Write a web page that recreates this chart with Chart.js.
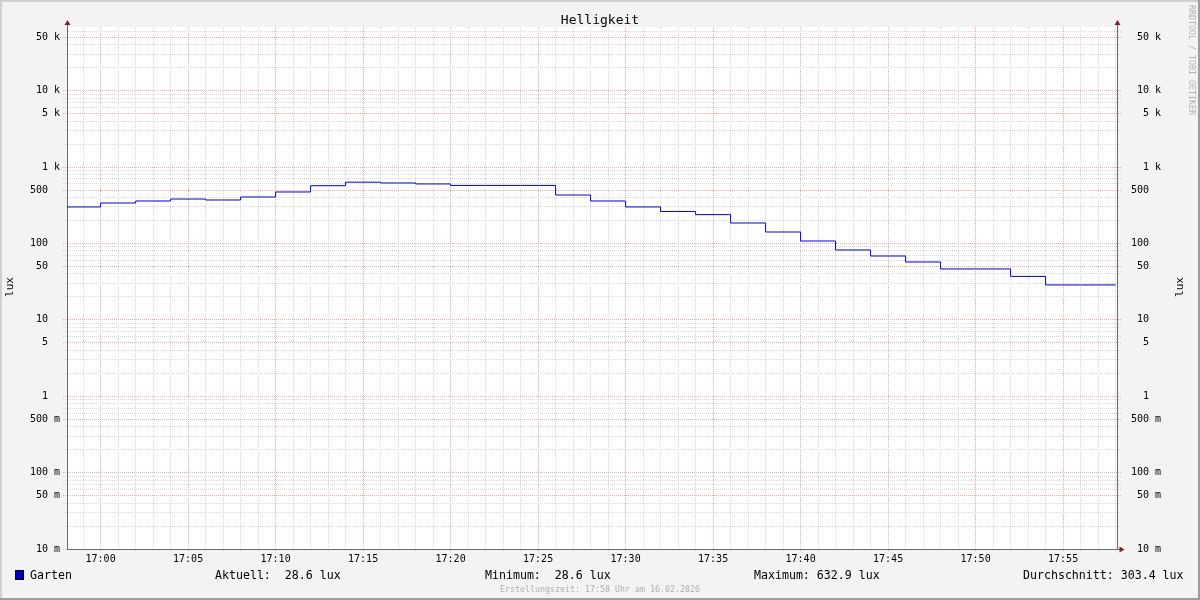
<!DOCTYPE html>
<html lang="de">
<head>
<meta charset="utf-8">
<title>Helligkeit</title>
<script src="https://cdn.jsdelivr.net/npm/chart.js@4.4.1/dist/chart.umd.min.js"></script>
<style>
  html, body { margin: 0; padding: 0; background: #f3f3f3; }
  #myChart { display: block; }
</style>
</head>
<body>
<canvas id="myChart" width="1200" height="600"></canvas>
<script>
/*
  • Data
  ---------- ---------- ---------- ---------- ----------
*/

// start of each 2 minute interval, last entry closes the final step
const times = ['16:58', '17:00', '17:02', '17:04', '17:06', '17:08', '17:10', '17:12', '17:14', '17:16',
  '17:18', '17:20', '17:22', '17:24', '17:26', '17:28', '17:30', '17:32', '17:34', '17:36',
  '17:38', '17:40', '17:42', '17:44', '17:46', '17:48', '17:50', '17:52', '17:54', '17:56', '17:58'];
const lux = [300, 338, 359, 381, 370, 405, 471, 569, 632.9, 618,
  600, 574, 574, 574, 430, 359, 300, 262, 238, 185,
  141, 107.5, 82, 68.4, 57.1, 46.3, 46.3, 37, 28.6, 28.6, 28.6];

const yTickValues = [0.01, 0.05, 0.1, 0.5, 1, 5, 10, 50, 100, 500, 1000, 5000, 10000, 50000];
const yTickLabels = ['10 m', '50 m', '100 m', '500 m', '1', '5', '10', '50', '100', '500', '1 k', '5 k', '10 k', '50 k'];
const xTickLabels = ['17:00', '17:05', '17:10', '17:15', '17:20', '17:25', '17:30', '17:35', '17:40', '17:45', '17:50', '17:55'];

const statNames = ['Aktuell:', 'Minimum:', 'Maximum:', 'Durchschnitt:'];
const statValues = [28.6, 28.6, 632.9, 303.4];

/*
  • Config
  ---------- ---------- ---------- ---------- ----------
*/

const MONO = '"DejaVu Sans Mono", "Liberation Mono", monospace';
const C_MINOR = '#d8d8d8';
const C_MAJOR = '#eeaaaa';
const C_AXIS = '#6a6a6a';
const C_ARROW = '#8e1c1c';
const C_LINE = '#0000cc';

const X_MIN = -1.92;
const X_MAX = 58.08;
const Y_MIN = 0.01;
const Y_MAX = 68000;

/*
  • Helpers
  ---------- ---------- ---------- ---------- ----------
*/

function toMinutes (t) {
  const [h, m] = t.split(':').map(Number);
  return h * 60 + m - 17 * 60;
}

// rrdtool style "%3s %1s" label, 5 chars wide
function padLabel (label) {
  const parts = label.split(' ');
  return parts[0].padStart(3) + ' ' + (parts[1] || ' ');
}

function yTicks () {
  const ticks = [];
  for (let exp = -2; exp <= 4; exp++) {
    for (let s = 1; s <= 9; s++) {
      const value = Number((s * Math.pow(10, exp)).toPrecision(6));
      if (value <= Y_MAX) ticks.push({value: value, major: s === 1 || s === 5});
    }
  }
  return ticks;
}

function xTicks () {
  const ticks = [];
  for (let m = Math.ceil(X_MIN); m <= Math.floor(X_MAX); m++) {
    ticks.push({value: m, major: m % 5 === 0});
  }
  return ticks;
}

function yLabel (value) {
  const i = yTickValues.findIndex(v => Math.abs(v - value) / v < 1e-6);
  return i < 0 ? '' : padLabel(yTickLabels[i]);
}

function xLabel (value) {
  if (value % 5 !== 0 || value < 0) return '';
  return xTickLabels[value / 5] || '';
}

function gridColor (ctx) {
  if (!ctx.tick) return C_MINOR;
  return ctx.tick.major ? C_MAJOR : C_MINOR;
}

const yAxisBase = {
  type: 'logarithmic',
  min: Y_MIN,
  max: Y_MAX,
  afterBuildTicks: scale => { scale.ticks = yTicks(); },
  border: {display: true, color: C_AXIS, width: 1, dash: [1, 1]},
  ticks: {
    autoSkip: false,
    font: {family: MONO, size: 10},
    color: '#000',
    callback: yLabel
  }
};

/*
  • Plugins
  ---------- ---------- ---------- ---------- ----------
*/

const rrdFrame = {
  id: 'rrdFrame',
  beforeDraw (chart) {
    const {ctx, chartArea: a} = chart;
    ctx.save();
    ctx.fillStyle = '#f3f3f3';
    ctx.fillRect(0, 0, chart.width, chart.height);
    ctx.fillStyle = '#ffffff';
    ctx.fillRect(a.left, a.top, a.right - a.left, a.bottom - a.top);
    ctx.restore();
  },
  afterDraw (chart) {
    const {ctx, chartArea: a} = chart;
    ctx.save();

    // axis extensions and arrows
    ctx.strokeStyle = C_AXIS;
    ctx.lineWidth = 1;
    ctx.beginPath();
    ctx.moveTo(a.left + 0.5, a.top);
    ctx.lineTo(a.left + 0.5, a.top - 4);
    ctx.moveTo(a.right + 0.5, a.top);
    ctx.lineTo(a.right + 0.5, a.top - 4);
    ctx.moveTo(a.right, a.bottom + 0.5);
    ctx.lineTo(a.right + 4, a.bottom + 0.5);
    ctx.stroke();

    ctx.fillStyle = C_ARROW;
    [a.left, a.right].forEach(x => {
      ctx.beginPath();
      ctx.moveTo(x + 0.5, a.top - 7);
      ctx.lineTo(x + 3.5, a.top - 2);
      ctx.lineTo(x - 2.5, a.top - 2);
      ctx.closePath();
      ctx.fill();
    });
    ctx.beginPath();
    ctx.moveTo(a.right + 7.5, a.bottom + 0.5);
    ctx.lineTo(a.right + 2.5, a.bottom - 2.5);
    ctx.lineTo(a.right + 2.5, a.bottom + 3.5);
    ctx.closePath();
    ctx.fill();

    // title
    ctx.fillStyle = '#000';
    ctx.font = '13px ' + MONO;
    ctx.textAlign = 'center';
    ctx.textBaseline = 'alphabetic';
    ctx.fillText('Helligkeit', 600, 24);

    // vertical unit labels
    ctx.font = '11px ' + MONO;
    [10, 1180].forEach(x => {
      ctx.save();
      ctx.translate(x, 287);
      ctx.rotate(-Math.PI / 2);
      ctx.textAlign = 'center';
      ctx.textBaseline = 'middle';
      ctx.fillText('lux', 0, 0);
      ctx.restore();
    });

    // watermark
    ctx.save();
    ctx.translate(1187, 5);
    ctx.rotate(Math.PI / 2);
    ctx.fillStyle = '#b4b4b4';
    ctx.font = '8.3px ' + MONO;
    ctx.textAlign = 'left';
    ctx.textBaseline = 'bottom';
    ctx.fillText('RRDTOOL / TOBI OETIKER', 0, 0);
    ctx.restore();

    // legend row
    ctx.fillStyle = C_LINE;
    ctx.fillRect(15, 570, 9, 10);
    ctx.strokeStyle = '#000';
    ctx.strokeRect(15.5, 570.5, 8, 9);
    ctx.fillStyle = '#000';
    ctx.font = '11.6px ' + MONO;
    ctx.textAlign = 'left';
    ctx.textBaseline = 'alphabetic';
    ctx.fillText('Garten', 30, 579);
    const statX = [215, 485, 754, 1023];
    statNames.forEach((name, i) => {
      ctx.fillText(name + statValues[i].toFixed(1).padStart(6) + ' lux', statX[i], 579);
    });

    // footer
    ctx.fillStyle = '#b0b0b0';
    ctx.font = '8.3px ' + MONO;
    ctx.textAlign = 'center';
    ctx.fillText('Erstellungszeit: 17:58 Uhr am 16.02.2026', 600, 592);

    // outer frame
    ctx.fillStyle = '#cfcfcf';
    ctx.fillRect(0, 0, chart.width, 2);
    ctx.fillRect(0, 0, 2, chart.height);
    ctx.fillStyle = '#9c9c9c';
    ctx.fillRect(0, chart.height - 2, chart.width, 2);
    ctx.fillRect(chart.width - 2, 0, 2, chart.height);

    ctx.restore();
  }
};

/*
  • Chart
  ---------- ---------- ---------- ---------- ----------
*/

const ctx = document.getElementById('myChart').getContext('2d');

new Chart(ctx, {
  type: 'line',
  data: {
    datasets: [{
      label: 'Garten',
      data: times.map((t, i) => ({x: toMinutes(t), y: lux[i]})),
      stepped: 'before',
      borderColor: C_LINE,
      borderWidth: 1,
      pointRadius: 0,
      fill: false,
      yAxisID: 'y'
    }]
  },
  options: {
    responsive: false,
    animation: false,
    devicePixelRatio: 1,
    layout: {padding: {top: 27, left: 0, right: 0, bottom: 0}},
    plugins: {
      legend: {display: false},
      title: {display: false},
      tooltip: {enabled: false}
    },
    scales: {
      x: {
        type: 'linear',
        min: X_MIN,
        max: X_MAX,
        afterBuildTicks: scale => { scale.ticks = xTicks(); },
        afterFit: scale => { scale.height = 51; },
        border: {display: true, color: C_AXIS, width: 1, dash: [1, 1]},
        grid: {
          color: gridColor,
          tickColor: gridColor,
          tickLength: 3,
          tickBorderDash: [1, 1],
          lineWidth: 1
        },
        ticks: {
          autoSkip: false,
          maxRotation: 0,
          padding: 1,
          font: {family: MONO, size: 10},
          color: '#000',
          callback: xLabel
        }
      },
      y: Object.assign({}, yAxisBase, {
        position: 'left',
        afterFit: scale => { scale.width = 67; },
        grid: {
          color: gridColor,
          tickColor: gridColor,
          tickLength: 4,
          tickBorderDash: [1, 1],
          lineWidth: 1
        },
        ticks: Object.assign({}, yAxisBase.ticks, {padding: 3})
      }),
      y2: Object.assign({}, yAxisBase, {
        position: 'right',
        afterFit: scale => { scale.width = 83; },
        grid: {
          drawOnChartArea: false,
          color: gridColor,
          tickColor: gridColor,
          tickLength: 4,
          tickBorderDash: [1, 1],
          lineWidth: 1
        },
        ticks: Object.assign({}, yAxisBase.ticks, {padding: 10})
      })
    }
  },
  plugins: [rrdFrame]
});
</script>
</body>
</html>
